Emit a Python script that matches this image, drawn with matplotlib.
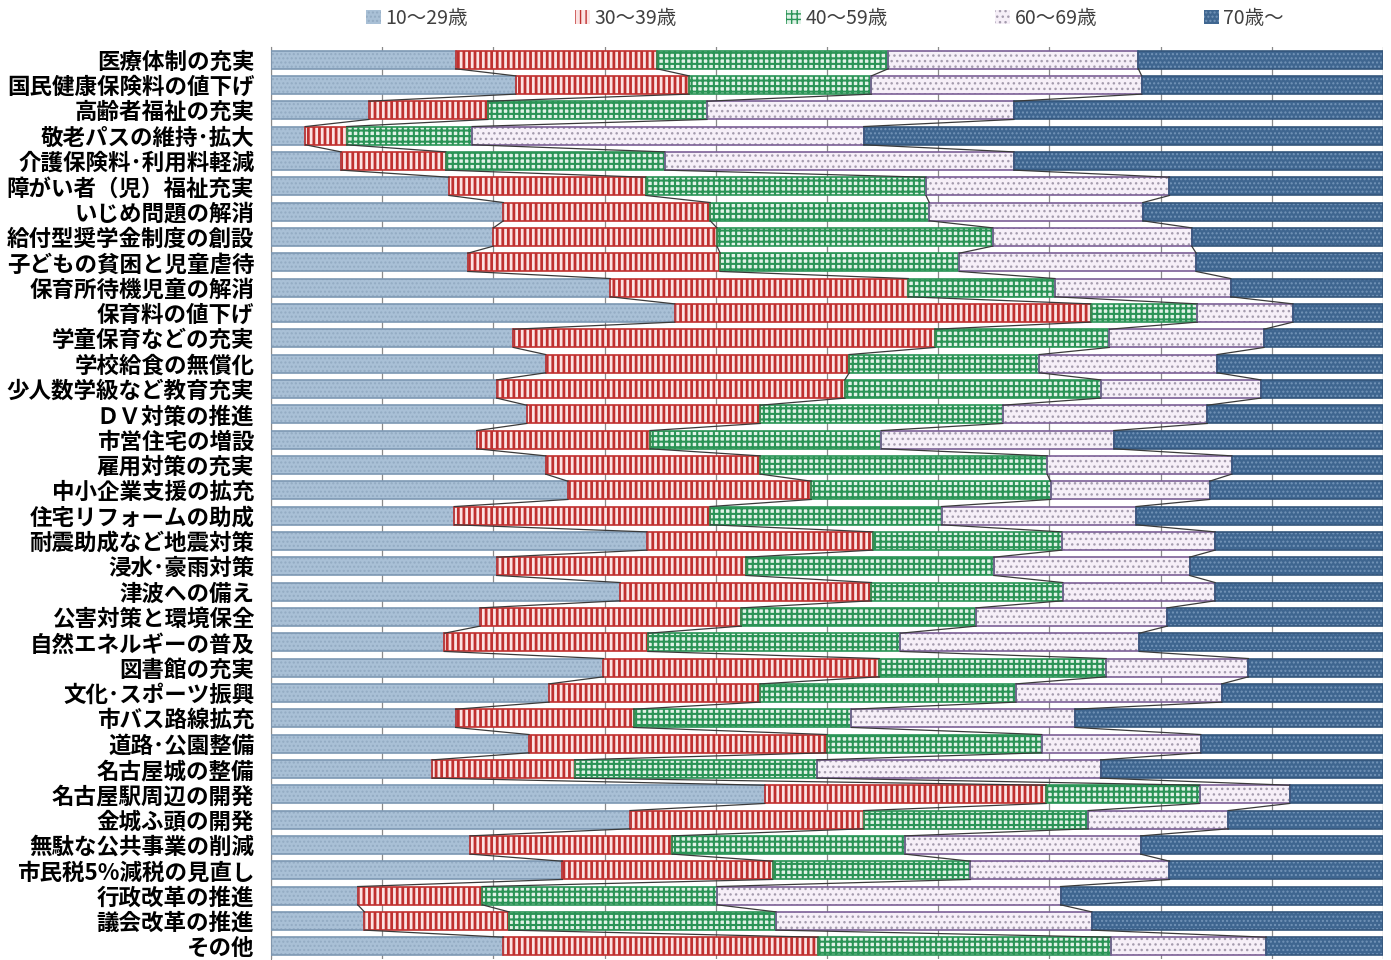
import numpy as np
import matplotlib
matplotlib.use("Agg")
import matplotlib.pyplot as plt

plt.rcParams['font.family'] = ['Noto Sans CJK JP', 'DejaVu Sans']

categories = [
    "医療体制の充実", "国民健康保険料の値下げ", "高齢者福祉の充実", "敬老パスの維持･拡大",
    "介護保険料･利用料軽減", "障がい者（児）福祉充実", "いじめ問題の解消", "給付型奨学金制度の創設",
    "子どもの貧困と児童虐待", "保育所待機児童の解消", "保育料の値下げ", "学童保育などの充実",
    "学校給食の無償化", "少人数学級など教育充実", "ＤＶ対策の推進", "市営住宅の増設",
    "雇用対策の充実", "中小企業支援の拡充", "住宅リフォームの助成", "耐震助成など地震対策",
    "浸水･豪雨対策", "津波への備え", "公害対策と環境保全", "自然エネルギーの普及",
    "図書館の充実", "文化･スポーツ振興", "市バス路線拡充", "道路･公園整備",
    "名古屋城の整備", "名古屋駅周辺の開発", "金城ふ頭の開発", "無駄な公共事業の削減",
    "市民税5%減税の見直し", "行政改革の推進", "議会改革の推進", "その他",
]

series_names = ["10～29歳", "30～39歳", "40～59歳", "60～69歳", "70歳～"]

age_10_29 = [16.6, 22.0, 8.8, 3.1, 6.3, 16.0, 20.9, 20.0, 17.7, 30.5, 36.3, 21.8,
             24.7, 20.3, 23.0, 18.5, 24.7, 26.7, 16.5, 33.8, 20.3, 31.4, 18.8, 15.6,
             29.9, 25.0, 16.6, 23.2, 14.5, 44.4, 32.3, 17.9, 26.2, 7.8, 8.4, 20.9]
age_30_39 = [18.1, 15.6, 10.7, 3.7, 9.4, 17.7, 18.6, 20.1, 22.7, 26.8, 37.4, 37.9,
             27.3, 31.3, 21.0, 15.6, 19.3, 21.9, 23.0, 20.3, 22.4, 22.6, 23.5, 18.3,
             24.8, 19.0, 16.0, 26.8, 12.8, 25.3, 21.0, 18.2, 18.9, 11.2, 13.0, 28.3]
age_40_59 = [20.8, 16.4, 19.7, 11.3, 19.7, 25.2, 19.7, 24.8, 21.5, 13.2, 9.6, 15.7,
             17.1, 23.0, 21.8, 20.8, 25.8, 21.5, 20.8, 17.0, 22.3, 17.2, 21.1, 22.7,
             20.4, 23.0, 19.6, 19.3, 21.8, 13.8, 20.2, 20.9, 17.8, 21.1, 24.0, 26.3]
age_60_69 = [22.5, 24.3, 27.6, 35.2, 31.4, 21.9, 19.2, 17.9, 21.3, 15.8, 8.6, 13.9,
             16.0, 14.4, 18.4, 20.9, 16.6, 14.3, 17.5, 13.8, 17.6, 13.7, 17.2, 21.5,
             12.8, 18.5, 20.1, 14.3, 25.5, 8.1, 12.6, 21.2, 17.9, 30.9, 28.4, 14.0]
age_70_up = [22.0, 21.7, 33.2, 46.7, 33.2, 19.2, 21.6, 17.2, 16.8, 13.7, 8.1, 10.7,
             14.9, 11.0, 15.8, 24.2, 13.6, 15.6, 22.2, 15.1, 17.4, 15.1, 19.4, 21.9,
             12.1, 14.5, 27.7, 16.4, 25.4, 8.4, 13.9, 21.8, 19.2, 29.0, 26.2, 10.5]

series = [age_10_29, age_30_39, age_40_59, age_60_69, age_70_up]

# fill, hatch colour, outline, hatch pattern, hatch width
styles = [
    ("#a9c0d6", "#93abc3", "#7d98b3", "....", 1.0),
    ("#fbe3e3", "#c0302f", "#c0302f", "|||", 2.0),
    ("#e0f2e7", "#2a9456", "#2a9456", "+++", 1.5),
    ("#f6eff8", "#a59cae", "#7b5f96", "...", 1.0),
    ("#3f6690", "#7394b8", "#34567c", "....", 1.0),
]

fig = plt.figure(figsize=(13.91, 9.6), dpi=100)
ax = fig.add_axes([271 / 1391, 1 / 960, 1112 / 1391, 912 / 960])

y = np.arange(len(categories))
h = 0.72
left = np.zeros(len(categories))
bounds = []
handles = []
for vals, (fc, hc, ec, hatch, hw), name in zip(series, styles, series_names):
    plt.rcParams['hatch.linewidth'] = hw
    vals = np.array(vals)
    b = ax.barh(y, vals, left=left, height=h, color=fc, edgecolor=hc,
                hatch=hatch, linewidth=0, zorder=2, label=name)
    ax.barh(y, vals, left=left, height=h, fill=False, edgecolor=ec,
            linewidth=1.2, zorder=3)
    handles.append(b)
    left = left + vals
    bounds.append(left.copy())

# series lines between neighbouring bars
for cum in bounds[:-1]:
    for i in range(len(categories) - 1):
        ax.plot([cum[i], cum[i + 1]], [i + h / 2, i + 1 - h / 2],
                color="#3a3a3a", linewidth=0.9, zorder=4)

ax.set_xlim(0, 100)
ax.set_ylim(len(categories) - 0.5, -0.5)
ax.set_yticks(y)
ax.set_yticklabels(categories, fontsize=16.2, fontweight="bold")
ax.tick_params(axis="y", length=0, pad=12)
ax.tick_params(axis="x", length=0, labelbottom=False)
ax.set_xticks(np.arange(0, 101, 10))
ax.grid(axis="x", color="#8a8a8a", linewidth=0.9, zorder=0)
ax.set_axisbelow(True)
for s in ["top", "right", "bottom"]:
    ax.spines[s].set_visible(False)
ax.spines["left"].set_color("#8a8a8a")

# legend entries spread across the top
leg_x = [366, 575, 786, 995, 1204]
for hd, lx in zip(handles, leg_x):
    fig.legend(handles=[hd], labels=[hd.get_label()], loc="center left",
               bbox_to_anchor=(lx / 1391, 1 - 18 / 960), frameon=False,
               fontsize=14, labelcolor="#404040", handlelength=0.75,
               handleheight=0.75, handletextpad=0.25, borderpad=0,
               borderaxespad=0)

fig.savefig("out.png", dpi=100)
